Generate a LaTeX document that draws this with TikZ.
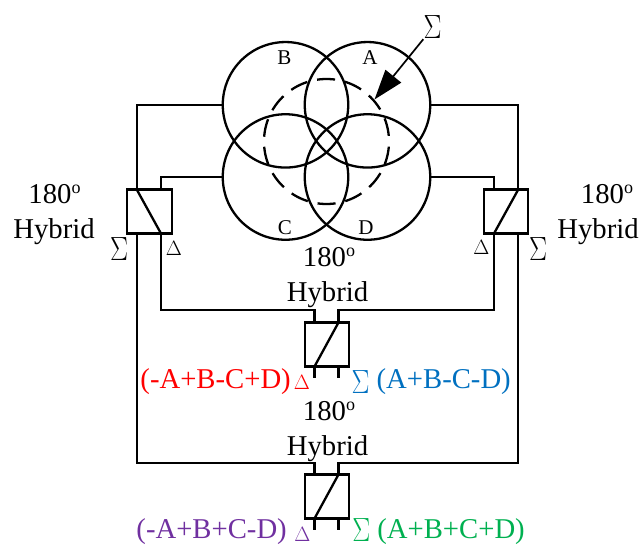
\documentclass[tikz,border=0pt]{standalone}
\usepackage{fontspec}
\setmainfont{Liberation Serif}
\usetikzlibrary{arrows.meta}
\definecolor{cred}{HTML}{FF0000}
\definecolor{cblue}{HTML}{0070C0}
\definecolor{cpurple}{HTML}{7030A0}
\definecolor{cgreen}{HTML}{00B050}
\newcommand{\supo}{\raisebox{0.38em}{\fontsize{18}{18}\selectfont o}}
\newcommand{\bigS}{\scalebox{1.08}[1.35]{$\Sigma$}}
\newcommand{\lowS}{\raisebox{-5pt}{\bigS}}
\newcommand{\lowSb}{\raisebox{-3pt}{\bigS}}
\tikzset{
  ant/.style={circle,draw,line width=2.3pt,minimum size=125.5pt,inner sep=0pt},
  dashring/.style={circle,draw,line width=2.3pt,dash pattern=on 18pt off 10pt,dash phase=22.4pt,minimum size=125pt,inner sep=0pt},
  hyb/.style={rectangle,draw,line width=2.3pt,minimum width=44.5pt,minimum height=44pt,inner sep=0pt},
  wire/.style={draw,line width=2.3pt},
  lab/.style={inner sep=0pt,anchor=base,font=\fontsize{28.7}{28.7}\selectfont},
  small/.style={inner sep=0pt,font=\fontsize{21}{21}\selectfont},
  tiny/.style={inner sep=0pt,font=\fontsize{20}{20}\selectfont},
  sig/.style={inner sep=0pt,font=\fontsize{24}{24}\selectfont}
}
\begin{document}
\begin{tikzpicture}[x=1pt,y=-1pt]
\useasboundingbox (0,0) rectangle (641,545);
% antenna elements
\node[ant] (B) at (285.5,104.8) {};
\node[ant] (A) at (367.5,104.8) {};
\node[ant] (C) at (285.5,177) {};
\node[ant] (D) at (367.5,177) {};
\node[dashring] (S) at (326.5,141.5) {};
% hybrids
\node[hyb] (HL) at (149.5,211.5) {};
\node[hyb] (HR) at (506,211.5) {};
\node[hyb] (HM) at (327,344.5) {};
\node[hyb] (HB) at (327,496.5) {};
% terminals
\coordinate (HLa) at (137,190); \coordinate (HLb) at (161,190);
\coordinate (HLc) at (137,233.5); \coordinate (HLd) at (161,233.5);
\coordinate (HRa) at (494,190); \coordinate (HRb) at (518,190);
\coordinate (HRc) at (494,233.5); \coordinate (HRd) at (518,233.5);
\coordinate (HMa) at (314.5,322.5); \coordinate (HMb) at (338.5,322.5);
\coordinate (HMc) at (314.5,366.5); \coordinate (HMd) at (338.5,366.5);
\coordinate (HBa) at (314.5,474.5); \coordinate (HBb) at (338.5,474.5);
\coordinate (HBc) at (314.5,518.5); \coordinate (HBd) at (338.5,518.5);
\coordinate (HMe) at (314.5,378); \coordinate (HMf) at (338.5,378);
\coordinate (HBe) at (314.5,530); \coordinate (HBf) at (338.5,530);
% diagonals
\draw[wire] (HLa) -- (HLd);
\draw[wire] (HRb) -- (HRc);
\draw[wire] (HMb) -- (HMc);
\draw[wire] (HBb) -- (HBc);
% connectors
\draw[wire] (B.west) -| (HLa);
\draw[wire] (C.west) -| (HLb);
\draw[wire] (A.east) -| (HRb);
\draw[wire] (D.east) -| (HRa);
\draw[wire] (HLd) |- (314.5,310) -- (HMa);
\draw[wire] (HRc) |- (338.5,310) -- (HMb);
\draw[wire] (HLc) |- (314.5,463) -- (HBa);
\draw[wire] (HRd) |- (338.5,463) -- (HBb);
\draw[wire] (HMc) -- (HMe);
\draw[wire] (HMd) -- (HMf);
\draw[wire] (HBc) -- (HBe);
\draw[wire] (HBd) -- (HBf);
% sum label & arrow
\node[sig] (SL) at (432.5,27.5) {\bigS};
\coordinate (AT) at (374.5,99.5);
\draw[line width=1.7pt,-{Triangle[length=30pt,width=20pt]}] (SL.south west) -- (AT);
% element labels
\node[small] (lB) at (284.5,58) {B};
\node[small] (lA) at (370,58) {A};
\node[small] (lC) at (285,228) {C};
\node[small] (lD) at (366,228) {D};
% hybrid labels
\node[lab] (t1) at (54.5,204) {180\supo};
\node[lab] (t2) at (54,239) {Hybrid};
\node[lab] (t3) at (607,204) {180\supo};
\node[lab] (t4) at (598,239) {Hybrid};
\node[lab] (t5) at (329,267) {180\supo};
\node[lab] (t6) at (327.5,302) {Hybrid};
\node[lab] (t7) at (329,421) {180\supo};
\node[lab] (t8) at (327.5,456) {Hybrid};
% port symbols
\node[sig] (s1) at (119,249) {\bigS};
\node[tiny] (d1) at (174,248) {$\Delta$};
\node[tiny] (d2) at (481.5,247.5) {$\Delta$};
\node[sig] (s2) at (538,249) {\bigS};
% outputs
\node[lab,text=cred,anchor=base east] (o1) at (291,389) {(-A+B-C+D)};
\node[tiny,text=cred] (o1d) at (302,382.5) {$\Delta$};
\node[lab,text=cblue,anchor=base east] (o2) at (511,389) {\lowS\ (A+B-C-D)};
\node[lab,text=cpurple,anchor=base east] (o3) at (287,538.8) {(-A+B+C-D)};
\node[tiny,text=cpurple] (o3d) at (302.5,534) {$\Delta$};
\node[lab,text=cgreen,anchor=base east] (o4) at (525,538.8) {\lowSb\ (A+B+C+D)};
\end{tikzpicture}
\end{document}
